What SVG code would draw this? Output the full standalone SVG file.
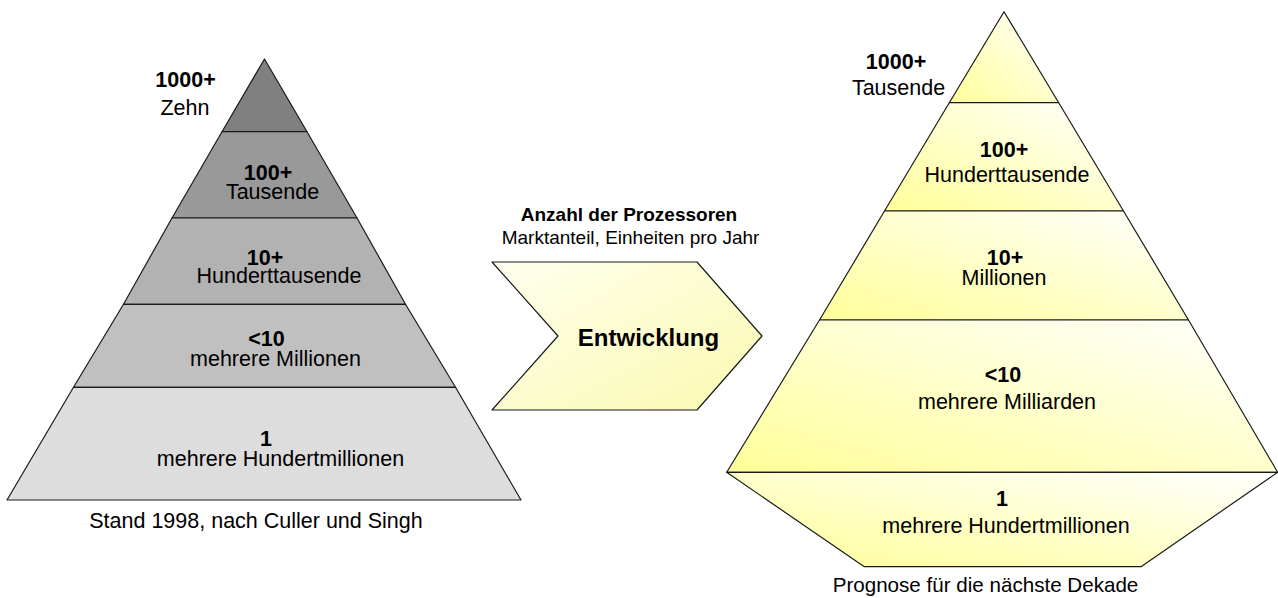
<svg xmlns="http://www.w3.org/2000/svg" width="1278" height="598" viewBox="0 0 1278 598">
<defs>
<linearGradient id="yel" x1="0" y1="1" x2="1" y2="0">
<stop offset="0" stop-color="#ffff99"/>
<stop offset="1" stop-color="#ffffff"/>
</linearGradient>
<linearGradient id="chev" x1="0" y1="0" x2="1" y2="1">
<stop offset="0" stop-color="#ffffef"/>
<stop offset="1" stop-color="#fafab0"/>
</linearGradient>
<style>
.s{stroke:#1a1a1a;stroke-width:1.2;stroke-linejoin:round}
.t{font-family:"Liberation Sans",Arial,sans-serif;font-size:21.5px;fill:#000;text-anchor:middle}
.b{font-weight:bold}
.h{font-size:19px}
</style>
</defs>
<g id="connectors"/>
<g id="left-pyramid">
<g id="l1"><polygon class="s" fill="#808080" points="264.5,59 307,131.7 222,131.7"/></g>
<g id="l2"><polygon class="s" fill="#999999" points="222,131.7 307,131.7 357,218 172,218"/></g>
<g id="l3"><polygon class="s" fill="#b2b2b2" points="172,218 357,218 405.5,304.3 123.5,304.3"/></g>
<g id="l4"><polygon class="s" fill="#c0c0c0" points="123.5,304.3 405.5,304.3 455.5,387.3 73.5,387.3"/></g>
<g id="l5"><polygon class="s" fill="#dddddd" points="73.5,387.3 455.5,387.3 521,500 7,500"/></g>
<text class="t b" x="185.5" y="87">1000+</text>
<text class="t" x="185" y="115">Zehn</text>
<text class="t b" x="268" y="180">100+</text>
<text class="t" x="272.5" y="198.5">Tausende</text>
<text class="t b" x="265" y="265">10+</text>
<text class="t" x="279" y="283">Hunderttausende</text>
<text class="t b" x="266.5" y="346">&lt;10</text>
<text class="t" x="275.5" y="366">mehrere Millionen</text>
<text class="t b" x="266" y="445.5">1</text>
<text class="t" x="280.5" y="466">mehrere Hundertmillionen</text>
<text class="t" x="256" y="528">Stand 1998, nach Culler und Singh</text>
</g>
<g id="chevron">
<polygon class="s" fill="url(#chev)" points="492,262 697,262 762,336 697,410 492,410 558,336"/>
<text class="t b h" x="629" y="221">Anzahl der Prozessoren</text>
<text class="t h" x="630.5" y="244">Marktanteil, Einheiten pro Jahr</text>
<text class="t b" x="648.5" y="345.5" style="font-size:24px">Entwicklung</text>
</g>
<g id="right-pyramid">
<g id="r1"><polygon class="s" fill="url(#yel)" points="1004,11.7 1058.7,102.7 949.3,102.7"/></g>
<g id="r2"><polygon class="s" fill="url(#yel)" points="949.3,102.7 1058.7,102.7 1123.5,211 884.5,211"/></g>
<g id="r3"><polygon class="s" fill="url(#yel)" points="884.5,211 1123.5,211 1188.5,320 819.5,320"/></g>
<g id="r4"><polygon class="s" fill="url(#yel)" points="819.5,320 1188.5,320 1277.7,472.3 726.7,472.3"/></g>
<g id="r5"><polygon class="s" fill="url(#yel)" points="726.7,472.3 1277.7,472.3 1141,566.7 864.3,566.7"/></g>
<text class="t b" x="896" y="69">1000+</text>
<text class="t" x="898.5" y="95">Tausende</text>
<text class="t b" x="1004" y="157">100+</text>
<text class="t" x="1007" y="182">Hunderttausende</text>
<text class="t b" x="1005" y="265">10+</text>
<text class="t" x="1004" y="285">Millionen</text>
<text class="t b" x="1003" y="382">&lt;10</text>
<text class="t" x="1007" y="409">mehrere Milliarden</text>
<text class="t b" x="1002" y="506">1</text>
<text class="t" x="1006" y="533">mehrere Hundertmillionen</text>
<text class="t" x="985.5" y="592" style="font-size:20.6px">Prognose für die nächste Dekade</text>
</g>
</svg>
